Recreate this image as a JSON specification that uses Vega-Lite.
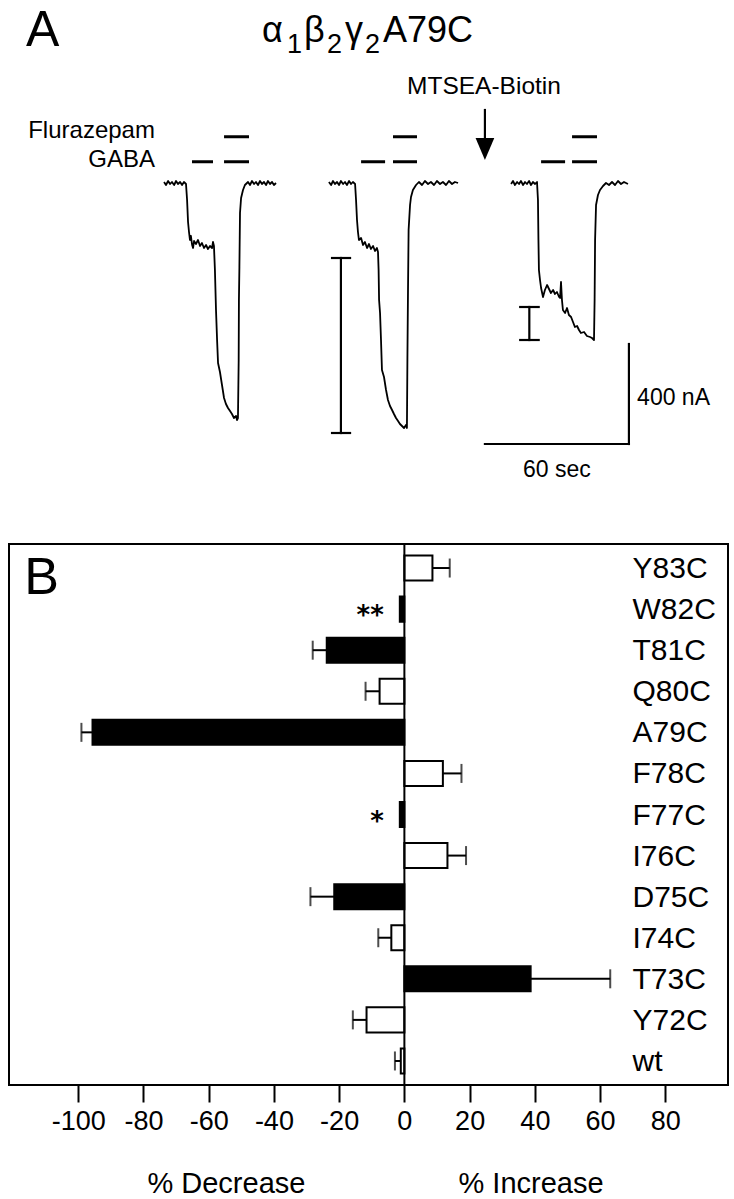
{
  "$schema": "https://vega.github.io/schema/vega-lite/v6.json",
  "padding": {"left": 8, "top": 0, "right": 7, "bottom": 0},
  "spacing": 0,
  "config": {"view": {"stroke": null}, "font": "Liberation Sans", "text": {"color": "black", "font": "Liberation Sans"}},
  "datasets": {
    "traces": [
      {"trace":"1","t":64.6,"i":4},{"trace":"1","t":65.4,"i":-8},{"trace":"1","t":66.3,"i":8},{"trace":"1","t":67.1,"i":-4},{"trace":"1","t":67.9,"i":4},{"trace":"1","t":68.8,"i":-8},{"trace":"1","t":69.6,"i":8},{"trace":"1","t":70.4,"i":-4},{"trace":"1","t":71.3,"i":4},{"trace":"1","t":72.1,"i":-8},{"trace":"1","t":72.9,"i":4},{"trace":"1","t":73.75,"i":-4},
      {"trace":"1","t":74.2,"i":-68},{"trace":"1","t":74.6,"i":-156},{"trace":"1","t":75.0,"i":-196},{"trace":"1","t":75.4,"i":-228},{"trace":"1","t":75.8,"i":-212},{"trace":"1","t":76.3,"i":-248},{"trace":"1","t":76.7,"i":-260},{"trace":"1","t":77.1,"i":-232},{"trace":"1","t":77.9,"i":-244},{"trace":"1","t":78.75,"i":-228},{"trace":"1","t":79.6,"i":-252},{"trace":"1","t":80.4,"i":-240},{"trace":"1","t":81.25,"i":-260},{"trace":"1","t":82.1,"i":-248},{"trace":"1","t":82.9,"i":-264},{"trace":"1","t":83.75,"i":-252},{"trace":"1","t":84.6,"i":-260},{"trace":"1","t":85.0,"i":-236},{"trace":"1","t":85.4,"i":-252},
      {"trace":"1","t":85.8,"i":-348},{"trace":"1","t":86.25,"i":-508},{"trace":"1","t":86.7,"i":-628},{"trace":"1","t":87.1,"i":-720},{"trace":"1","t":87.9,"i":-756},{"trace":"1","t":88.75,"i":-808},{"trace":"1","t":89.6,"i":-860},{"trace":"1","t":90.4,"i":-884},{"trace":"1","t":91.25,"i":-900},{"trace":"1","t":92.1,"i":-912},{"trace":"1","t":92.9,"i":-924},{"trace":"1","t":93.75,"i":-940},{"trace":"1","t":94.6,"i":-932},{"trace":"1","t":95.0,"i":-948},{"trace":"1","t":95.4,"i":-940},
      {"trace":"1","t":95.7,"i":-708},{"trace":"1","t":95.8,"i":-468},{"trace":"1","t":96.0,"i":-336},{"trace":"1","t":96.25,"i":-120},{"trace":"1","t":96.7,"i":-60},{"trace":"1","t":97.5,"i":-28},{"trace":"1","t":98.3,"i":-8},{"trace":"1","t":99.6,"i":4},{"trace":"1","t":100.4,"i":-8},{"trace":"1","t":101.25,"i":8},{"trace":"1","t":102.1,"i":-4},{"trace":"1","t":102.9,"i":4},{"trace":"1","t":103.75,"i":-8},{"trace":"1","t":104.6,"i":8},{"trace":"1","t":105.4,"i":-4},{"trace":"1","t":106.25,"i":4},{"trace":"1","t":107.1,"i":-8},{"trace":"1","t":107.9,"i":8},{"trace":"1","t":108.75,"i":-4},{"trace":"1","t":109.6,"i":4},{"trace":"1","t":110.4,"i":-8},{"trace":"1","t":111.25,"i":0},
      {"trace":"2","t":133.3,"i":4},{"trace":"2","t":134.2,"i":-8},{"trace":"2","t":135.0,"i":8},{"trace":"2","t":135.8,"i":-4},{"trace":"2","t":136.7,"i":4},{"trace":"2","t":137.5,"i":-8},{"trace":"2","t":138.3,"i":8},{"trace":"2","t":139.2,"i":-4},{"trace":"2","t":140.0,"i":4},{"trace":"2","t":140.8,"i":-8},{"trace":"2","t":141.7,"i":8},{"trace":"2","t":142.5,"i":-4},{"trace":"2","t":143.3,"i":4},{"trace":"2","t":144.2,"i":-4},
      {"trace":"2","t":144.6,"i":-68},{"trace":"2","t":145.0,"i":-148},{"trace":"2","t":145.4,"i":-196},{"trace":"2","t":145.8,"i":-228},{"trace":"2","t":146.7,"i":-220},{"trace":"2","t":147.5,"i":-248},{"trace":"2","t":148.3,"i":-236},{"trace":"2","t":149.2,"i":-260},{"trace":"2","t":150.0,"i":-244},{"trace":"2","t":150.8,"i":-264},{"trace":"2","t":151.7,"i":-252},{"trace":"2","t":152.5,"i":-272},{"trace":"2","t":153.3,"i":-260},{"trace":"2","t":153.75,"i":-276},
      {"trace":"2","t":154.0,"i":-348},{"trace":"2","t":154.2,"i":-468},{"trace":"2","t":154.6,"i":-520},{"trace":"2","t":155.0,"i":-628},{"trace":"2","t":155.4,"i":-748},{"trace":"2","t":156.25,"i":-776},{"trace":"2","t":157.1,"i":-828},{"trace":"2","t":157.9,"i":-868},{"trace":"2","t":158.75,"i":-892},{"trace":"2","t":159.6,"i":-908},{"trace":"2","t":160.4,"i":-924},{"trace":"2","t":161.25,"i":-940},{"trace":"2","t":162.1,"i":-952},{"trace":"2","t":162.9,"i":-964},{"trace":"2","t":163.75,"i":-972},{"trace":"2","t":164.6,"i":-980},{"trace":"2","t":165.4,"i":-968},{"trace":"2","t":165.8,"i":-980},
      {"trace":"2","t":166.0,"i":-708},{"trace":"2","t":166.25,"i":-428},{"trace":"2","t":166.5,"i":-188},{"trace":"2","t":167.1,"i":-88},{"trace":"2","t":167.5,"i":-56},{"trace":"2","t":168.3,"i":-28},{"trace":"2","t":169.6,"i":-8},{"trace":"2","t":170.8,"i":4},{"trace":"2","t":172.1,"i":-8},{"trace":"2","t":173.3,"i":8},{"trace":"2","t":174.6,"i":-4},{"trace":"2","t":175.8,"i":4},{"trace":"2","t":177.1,"i":-8},{"trace":"2","t":178.3,"i":8},{"trace":"2","t":179.6,"i":-4},{"trace":"2","t":180.8,"i":4},{"trace":"2","t":182.1,"i":-8},{"trace":"2","t":183.3,"i":8},{"trace":"2","t":184.6,"i":-4},{"trace":"2","t":185.8,"i":4},{"trace":"2","t":187.1,"i":0},
      {"trace":"3","t":209.2,"i":-4},{"trace":"3","t":210.0,"i":8},{"trace":"3","t":210.8,"i":-8},{"trace":"3","t":211.7,"i":4},{"trace":"3","t":212.5,"i":-4},{"trace":"3","t":213.3,"i":8},{"trace":"3","t":214.2,"i":-8},{"trace":"3","t":215.0,"i":4},{"trace":"3","t":215.8,"i":-4},{"trace":"3","t":216.7,"i":8},{"trace":"3","t":217.5,"i":-8},{"trace":"3","t":218.3,"i":4},{"trace":"3","t":219.2,"i":-4},{"trace":"3","t":220.0,"i":4},
      {"trace":"3","t":220.4,"i":-68},{"trace":"3","t":220.6,"i":-228},{"trace":"3","t":220.8,"i":-348},{"trace":"3","t":221.25,"i":-388},{"trace":"3","t":221.7,"i":-420},{"trace":"3","t":222.5,"i":-456},{"trace":"3","t":223.3,"i":-428},{"trace":"3","t":224.2,"i":-408},{"trace":"3","t":225.0,"i":-424},{"trace":"3","t":225.8,"i":-440},{"trace":"3","t":226.7,"i":-428},{"trace":"3","t":227.5,"i":-444},{"trace":"3","t":228.3,"i":-436},{"trace":"3","t":229.2,"i":-456},{"trace":"3","t":229.6,"i":-460},{"trace":"3","t":230.0,"i":-396},{"trace":"3","t":230.4,"i":-468},{"trace":"3","t":230.8,"i":-508},{"trace":"3","t":231.7,"i":-520},{"trace":"3","t":232.5,"i":-500},{"trace":"3","t":233.3,"i":-528},{"trace":"3","t":234.2,"i":-536},{"trace":"3","t":235.0,"i":-556},{"trace":"3","t":235.8,"i":-576},{"trace":"3","t":236.7,"i":-572},{"trace":"3","t":237.5,"i":-588},{"trace":"3","t":238.3,"i":-600},{"trace":"3","t":239.6,"i":-596},{"trace":"3","t":240.8,"i":-612},{"trace":"3","t":242.1,"i":-616},{"trace":"3","t":242.9,"i":-620},{"trace":"3","t":243.75,"i":-628},
      {"trace":"3","t":244.0,"i":-468},{"trace":"3","t":244.2,"i":-228},{"trace":"3","t":244.6,"i":-88},{"trace":"3","t":245.4,"i":-48},{"trace":"3","t":246.25,"i":-28},{"trace":"3","t":247.5,"i":-12},{"trace":"3","t":248.75,"i":0},{"trace":"3","t":250.0,"i":-8},{"trace":"3","t":251.25,"i":4},{"trace":"3","t":252.5,"i":-8},{"trace":"3","t":253.75,"i":8},{"trace":"3","t":255.0,"i":-4},{"trace":"3","t":256.25,"i":4},{"trace":"3","t":257.9,"i":-4}
    ],
    "drugBars": [
      {"drug":"GABA","t":76.25,"t2":85.0,"i":85},{"drug":"GABA","t":89.6,"t2":100.0,"i":85},
      {"drug":"GABA","t":146.7,"t2":156.7,"i":85},{"drug":"GABA","t":160.0,"t2":170.0,"i":85},
      {"drug":"GABA","t":221.7,"t2":231.7,"i":85},{"drug":"GABA","t":234.6,"t2":245.0,"i":85},
      {"drug":"Flurazepam","t":89.6,"t2":100.0,"i":185},{"drug":"Flurazepam","t":160.0,"t2":170.0,"i":185},{"drug":"Flurazepam","t":234.6,"t2":245.0,"i":185}
    ],
    "segments": [
      {"item":"peak 1 stem","t":138.3,"t2":138.3,"i":-300,"i2":-1000},
      {"item":"peak 1 cap top","t":134.6,"t2":142.1,"i":-300,"i2":-300},
      {"item":"peak 1 cap bottom","t":134.6,"t2":142.1,"i":-1000,"i2":-1000},
      {"item":"peak 2 stem","t":216.8,"t2":216.8,"i":-496,"i2":-628},
      {"item":"peak 2 cap top","t":213.0,"t2":220.7,"i":-496,"i2":-496},
      {"item":"peak 2 cap bottom","t":213.0,"t2":220.7,"i":-628,"i2":-628},
      {"item":"60 s bar","t":198.3,"t2":258.3,"i":-1044,"i2":-1044},
      {"item":"400 nA bar","t":258.3,"t2":258.3,"i":-1044,"i2":-644},
      {"item":"arrow shaft","t":198.3,"t2":198.3,"i":292,"i2":150}
    ],
    "arrowHead": [{"item":"MTSEA-Biotin application","t":198.3,"i":136}],
    "annotations": [
      {"label":"A","role":"panel","t":7.1,"i":548},
      {"label":"Flurazepam","role":"drug","t":60.8,"i":179},
      {"label":"GABA","role":"drug","t":60.8,"i":65},
      {"label":"MTSEA-Biotin","role":"treatment","t":197.9,"i":355},
      {"label":"400 nA","role":"scaleY","t":261.7,"i":-888},
      {"label":"60 sec","role":"scaleX","t":228.3,"i":-1176}
    ],
    "titleParts": [
      {"part":"α","level":"base","t":105.4,"i":564},
      {"part":"1","level":"sub","t":115.8,"i":520},
      {"part":"β","level":"base","t":122.9,"i":564},
      {"part":"2","level":"sub","t":132.5,"i":520},
      {"part":"γ","level":"base","t":140.0,"i":564},
      {"part":"2","level":"sub","t":148.3,"i":520},
      {"part":"A79C","level":"base","t":155.8,"i":564}
    ],
    "mutants": [
      {"mutant":"Y83C","value":8.6,"err":13.9,"significant":"no","note":null},
      {"mutant":"W82C","value":-1.4,"err":null,"significant":"yes","note":"**"},
      {"mutant":"T81C","value":-23.8,"err":-28.1,"significant":"yes","note":null},
      {"mutant":"Q80C","value":-7.6,"err":-11.9,"significant":"no","note":null},
      {"mutant":"A79C","value":-95.6,"err":-99.0,"significant":"yes","note":null},
      {"mutant":"F78C","value":11.8,"err":17.5,"significant":"no","note":null},
      {"mutant":"F77C","value":-1.4,"err":null,"significant":"yes","note":"*"},
      {"mutant":"I76C","value":13.2,"err":18.9,"significant":"no","note":null},
      {"mutant":"D75C","value":-21.5,"err":-28.8,"significant":"yes","note":null},
      {"mutant":"I74C","value":-4.0,"err":-8.0,"significant":"no","note":null},
      {"mutant":"T73C","value":38.7,"err":63.1,"significant":"yes","note":null},
      {"mutant":"Y72C","value":-11.6,"err":-15.8,"significant":"no","note":null},
      {"mutant":"wt","value":-1.1,"err":-2.9,"significant":"no","note":null}
    ]
  },
  "vconcat": [
    {
      "width": 719,
      "height": 542,
      "encoding": {
        "x": {"field": "t", "type": "quantitative", "scale": {"domain": [0, 299.58], "nice": false, "zero": false}, "axis": null},
        "y": {"field": "i", "type": "quantitative", "scale": {"domain": [-1436, 732], "nice": false, "zero": false}, "axis": null}
      },
      "layer": [
        {"data": {"name": "traces"}, "mark": {"type": "line", "color": "black", "strokeWidth": 1.8, "strokeJoin": "round"}, "encoding": {"detail": {"field": "trace"}}},
        {"data": {"name": "drugBars"}, "mark": {"type": "rule", "color": "black", "strokeWidth": 3}, "encoding": {"x2": {"field": "t2"}}},
        {"data": {"name": "segments"}, "mark": {"type": "rule", "color": "black", "strokeWidth": 2.2, "strokeCap": "square"}, "encoding": {"x2": {"field": "t2"}, "y2": {"field": "i2"}}},
        {"data": {"name": "arrowHead"}, "mark": {"type": "point", "shape": "M-0.85,-1L0.85,-1L0,1Z", "filled": true, "color": "black", "opacity": 1, "size": 484}, "encoding": {}},
        {"data": {"name": "annotations"}, "transform": [{"filter": "datum.role == 'panel'"}], "mark": {"type": "text", "align": "left", "baseline": "alphabetic", "fontSize": 50}, "encoding": {"text": {"field": "label"}}},
        {"data": {"name": "annotations"}, "transform": [{"filter": "datum.role == 'drug'"}], "mark": {"type": "text", "align": "right", "baseline": "alphabetic", "fontSize": 24}, "encoding": {"text": {"field": "label"}}},
        {"data": {"name": "annotations"}, "transform": [{"filter": "datum.role == 'treatment'"}], "mark": {"type": "text", "align": "center", "baseline": "alphabetic", "fontSize": 24.5}, "encoding": {"text": {"field": "label"}}},
        {"data": {"name": "annotations"}, "transform": [{"filter": "datum.role == 'scaleX'"}], "mark": {"type": "text", "align": "center", "baseline": "alphabetic", "fontSize": 23}, "encoding": {"text": {"field": "label"}}},
        {"data": {"name": "annotations"}, "transform": [{"filter": "datum.role == 'scaleY'"}], "mark": {"type": "text", "align": "left", "baseline": "alphabetic", "fontSize": 23}, "encoding": {"text": {"field": "label"}}},
        {"data": {"name": "titleParts"}, "transform": [{"filter": "datum.level == 'base'"}], "mark": {"type": "text", "align": "left", "baseline": "alphabetic", "fontSize": 36}, "encoding": {"text": {"field": "part"}}},
        {"data": {"name": "titleParts"}, "transform": [{"filter": "datum.level == 'sub'"}], "mark": {"type": "text", "align": "left", "baseline": "alphabetic", "fontSize": 27}, "encoding": {"text": {"field": "part"}}}
      ]
    },
    {
      "width": 719,
      "height": 541,
      "view": {"stroke": "black", "strokeWidth": 2},
      "layer": [
        {
          "data": {"name": "mutants"},
          "mark": {"type": "bar", "stroke": "black", "strokeWidth": 2},
          "encoding": {
            "x": {
              "field": "value", "type": "quantitative",
              "scale": {"domain": [-121.2, 99.2], "nice": false, "zero": false},
              "axis": {
                "values": [-100, -80, -60, -40, -20, 0, 20, 40, 60, 80],
                "labelExpr": "'' + datum.value",
                "domain": false, "grid": false,
                "tickSize": 17, "tickWidth": 2, "tickColor": "black",
                "labelFont": "Liberation Sans", "labelFontSize": 27, "labelColor": "black", "labelPadding": 6,
                "labelFlush": false, "labelOverlap": false,
                "title": "% Decrease\u00a0\u00a0\u00a0\u00a0\u00a0\u00a0\u00a0\u00a0\u00a0\u00a0\u00a0\u00a0\u00a0\u00a0\u00a0\u00a0\u00a0\u00a0\u00a0% Increase",
                "titleFont": "Liberation Sans", "titleFontSize": 29, "titleFontWeight": "normal", "titleColor": "black",
                "titlePadding": 35, "titleX": 366, "titleAlign": "center"
              }
            },
            "x2": {"datum": 0},
            "y": {
              "field": "mutant", "type": "nominal",
              "scale": {"domain": ["Y83C","W82C","T81C","Q80C","A79C","F78C","F77C","I76C","D75C","I74C","T73C","Y72C","wt"], "paddingInner": 0.39, "paddingOuter": 0.28},
              "axis": {
                "orient": "right", "title": null, "ticks": false, "tickSize": 0, "domain": false, "grid": false,
                "labelAlign": "left", "labelBaseline": "middle", "labelPadding": -96, "labelOffset": 1,
                "labelFont": "Liberation Sans", "labelFontSize": 30, "labelColor": "black"
              }
            },
            "fill": {"field": "significant", "type": "nominal", "scale": {"domain": ["yes", "no"], "range": ["black", "white"]}, "legend": null}
          }
        },
        {
          "data": {"name": "mutants"},
          "transform": [{"filter": "datum.err != null"}],
          "mark": {"type": "rule", "color": "black", "strokeWidth": 2},
          "encoding": {
            "x": {"field": "value", "type": "quantitative"},
            "x2": {"field": "err"},
            "y": {"field": "mutant", "type": "nominal"}
          }
        },
        {
          "data": {"name": "mutants"},
          "transform": [{"filter": "datum.err != null"}],
          "mark": {"type": "tick", "color": "black", "thickness": 2, "size": 19, "orient": "vertical"},
          "encoding": {
            "x": {"field": "err", "type": "quantitative"},
            "y": {"field": "mutant", "type": "nominal"}
          }
        },
        {
          "data": {"values": [{"level": 0}]},
          "mark": {"type": "rule", "color": "black", "strokeWidth": 2},
          "encoding": {
            "x": {"field": "level", "type": "quantitative"}
          }
        },
        {
          "data": {"name": "mutants"},
          "transform": [{"filter": "datum.note != null"}],
          "mark": {"type": "text", "align": "right", "baseline": "middle", "dx": -16, "dy": 7, "fontSize": 26, "fontWeight": "bold", "font": "DejaVu Sans"},
          "encoding": {
            "x": {"field": "value", "type": "quantitative"},
            "y": {"field": "mutant", "type": "nominal"},
            "text": {"field": "note"}
          }
        },
        {
          "data": {"values": [{"panel": "B"}]},
          "mark": {"type": "text", "align": "left", "baseline": "middle", "dy": 10, "fontSize": 52},
          "encoding": {
            "x": {"datum": -116.5, "type": "quantitative"},
            "y": {"datum": "Y83C", "type": "nominal"},
            "text": {"field": "panel"}
          }
        }
      ]
    }
  ]
}
